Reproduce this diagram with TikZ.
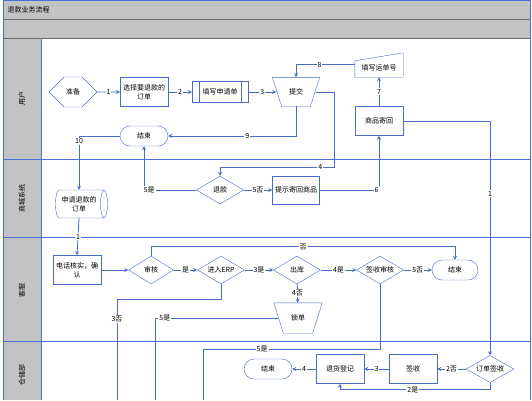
\documentclass[tikz,border=0pt]{standalone}
\usepackage{fontspec}
\setmainfont{Noto Sans CJK SC}
\usetikzlibrary{shapes.geometric,shapes.symbols}
\definecolor{laneblue}{HTML}{4C6ED6}
\definecolor{flowblue}{HTML}{4A6CC8}
\definecolor{headgray}{HTML}{C3C3C3}
\definecolor{linegray}{HTML}{6A6A6A}

\tikzset{
  procbox/.style={draw=flowblue,fill=white,minimum width=48pt,minimum height=29pt,inner sep=1pt,align=center},
  subbox/.style={procbox,minimum width=56pt,minimum height=21pt,
    path picture={\draw[flowblue] ([xshift=7pt]path picture bounding box.north west) -- ([xshift=7pt]path picture bounding box.south west)
      ([xshift=-7pt]path picture bounding box.north east) -- ([xshift=-7pt]path picture bounding box.south east);}},
  termbox/.style={draw=flowblue,fill=white,rounded corners=10pt,minimum width=48pt,minimum height=20pt,inner sep=1pt},
  decbox/.style={diamond,draw=flowblue,fill=white,aspect=1.7,inner sep=0pt,minimum width=47pt,minimum height=28pt},
  hexbox/.style={signal,signal to=east and west,draw=flowblue,fill=white,minimum width=48pt,minimum height=30pt,inner sep=1pt},
  trapbox/.style={minimum width=47pt,minimum height=29pt,inner sep=1pt},
  databox/.style={cylinder,draw=flowblue,fill=white,shape aspect=0.4,minimum width=28pt,minimum height=52pt,inner sep=1pt,align=center},
  lanelbl/.style={rotate=90},
  lbl/.style={fill=white,inner sep=1pt,text=black},
  flow/.style={draw=flowblue,line width=0.8pt,->},
  link/.style={draw=flowblue,line width=0.8pt}
}

\begin{document}
\begin{tikzpicture}[x=1pt,y=-1pt,>=stealth,font=\fontsize{7}{9}\selectfont]
\useasboundingbox (0,0) rectangle (532,400);
% header bars
\fill[headgray] (3,0) rectangle (530,38);
\draw[linegray,thick] (3,19.5) -- (530,19.5);
\draw[linegray,thick] (3,38.5) -- (530,38.5);
\node[anchor=west] (title) at (4,10) {退款业务流程};
% lanes
\fill[headgray] (3,39) rectangle (41,400);
\draw[laneblue,thick] (3,0.5) -- (530,0.5) (3,0) -- (3,400) (530,0) -- (530,400) (41,39) -- (41,400);
\draw[laneblue,thick] (3,159) -- (530,159) (3,237) -- (530,237) (3,341) -- (530,341);
\node[lanelbl] (lane1) at (22,98) {用户};
\node[lanelbl] (lane2) at (22,198) {商城系统};
\node[lanelbl] (lane3) at (22,290) {客服};
\node[lanelbl] (lane4) at (22,375) {仓储部};

% user lane
\node[hexbox] (prep) at (73,92) {准备};
\node[procbox] (pick) at (144,92) {选择要退款的\\订单};
\node[subbox] (form) at (220,92) {填写申请单};
\node[trapbox] (submit) at (296,92) {提交};
\draw[flowblue] (submit.north west) -- (submit.north east) -- ([xshift=-9.5pt]submit.south east) -- ([xshift=9.5pt]submit.south west) -- cycle;
\node[minimum width=48pt,minimum height=19pt,inner sep=1pt] (waybill) at (379,67.5) {填写运单号};
\draw[flowblue] (waybill.south west) -- (waybill.south east) -- ([yshift=5pt]waybill.north east) -- ([yshift=-3pt]waybill.north west) -- cycle;
\node[procbox] (ship) at (379,121) {商品寄回};
\node[termbox] (end1) at (144,136) {结束};

% system lane
\node[decbox] (refund) at (220,190) {退款};
\node[procbox,minimum width=47pt,minimum height=28pt] (hint) at (296,190) {提示寄回商品};
\node[databox] (order) at (79,204) {申请退款的\\订单};

% service lane
\node[procbox] (phone) at (77,270) {电话核实，确\\认};
\node[decbox,minimum width=45pt] (audit) at (151,270) {审核};
\node[decbox] (erp) at (221,270) {进入ERP};
\node[decbox] (out) at (297,270) {出库};
\node[decbox] (signaudit) at (380,270) {签收审核};
\node[termbox,minimum width=46pt] (end3) at (455,270) {结束};
\node[trapbox,minimum width=48pt,minimum height=30pt] (lock) at (298,318) {锁单};
\draw[flowblue] (lock.north west) -- (lock.north east) -- ([xshift=-9.5pt]lock.south east) -- ([xshift=9.5pt]lock.south west) -- cycle;

% warehouse lane
\node[decbox,minimum width=48pt,minimum height=27pt] (ordsign) at (490,369) {订单签收};
\node[procbox] (sign) at (413,369) {签收};
\node[procbox] (reg) at (340,369) {退货登记};
\node[termbox] (end4) at (268,369) {结束};
\coordinate (off3) at (117,400);
\coordinate (off5a) at (155,400);
\coordinate (off5b) at (203,400);

% connectors
\draw[flow] (prep) -- node[lbl]{1} (pick);
\draw[flow] (pick) -- node[lbl]{2} (form);
\draw[flow] (form) -- node[lbl]{3} ([xshift=4pt]submit.west);
\draw[flow] ([yshift=3pt]waybill.west) -| node[lbl,pos=0.3]{8} (submit.north);
\draw[flow] (ship) -- node[lbl]{7} (waybill);
\draw[flow] ([xshift=-4pt]submit.east) -| (334,167) -| node[lbl,pos=0.06]{4} (refund.north);
\draw[flow] ([yshift=0.5pt]submit.south) |- node[lbl,pos=0.69]{9} (end1.east);
\draw[flow] (end1.west) -| node[lbl,pos=0.55]{10} (order.north);
\draw[flow] (refund.west) -| node[lbl,pos=0.45]{5是} (end1.south);
\draw[flow] (refund) -- node[lbl]{5否} (hint);
\draw[flow] (hint.east) -| node[lbl,pos=0.48]{6} (ship.south);
\draw[flow] (ship.east) -| node[lbl,pos=0.655]{1} (ordsign.north);
\draw[flow] (order.south) -- node[lbl]{1} (phone.north);
\draw[flow] (phone) -- (audit);
\draw[flow] (audit) -- node[lbl]{是} (erp);
\draw[flow] (erp) -- node[lbl]{3是} (out);
\draw[flow] (out) -- node[lbl]{4是} (signaudit);
\draw[flow] (signaudit) -- node[lbl]{5否} (end3);
\draw[flow] (audit.north) -- ++(0,-9) -| node[lbl,pos=0.25]{否} (end3.north);
\draw[flow] (out) -- node[lbl]{4否} (lock);
\draw[link] ([xshift=4pt]lock.west) -| node[lbl,pos=0.46]{5是} (off5a);
\draw[link] (erp.south) -- ++(0,15) -| node[lbl,pos=0.6]{3否} (off3);
\draw[link] (signaudit.south) -- ++(0,65) -| node[lbl,pos=0.333]{5是} (off5b);
\draw[flow] (ordsign) -- node[lbl]{2否} (sign);
\draw[flow] (sign) -- node[lbl]{3} (reg);
\draw[flow] (reg) -- node[lbl]{4} (end4);
\draw[flow] (ordsign.south) -- ++(0,7) -| node[lbl,pos=0.257]{2是} (reg.south);
\end{tikzpicture}
\end{document}
